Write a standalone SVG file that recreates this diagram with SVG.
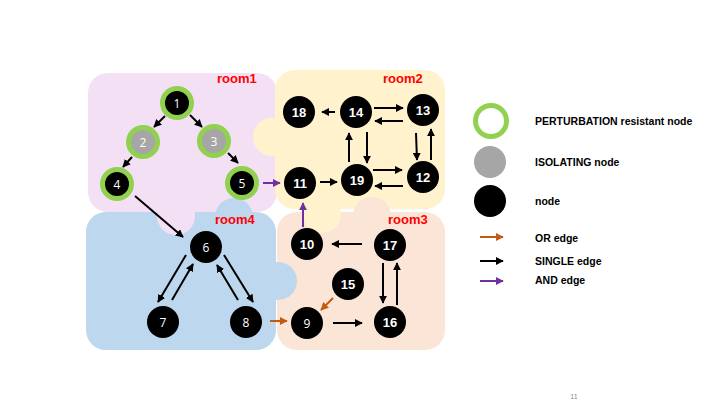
<svg xmlns="http://www.w3.org/2000/svg" width="720" height="405" viewBox="0 0 720 405">
<defs>
<marker id="ab" viewBox="0 0 10 10" refX="9" refY="5" markerWidth="4" markerHeight="4" orient="auto" markerUnits="strokeWidth"><path d="M0,0L10,5L0,10z" fill="#000"/></marker>
<marker id="ao" viewBox="0 0 10 10" refX="9" refY="5" markerWidth="4" markerHeight="4" orient="auto" markerUnits="strokeWidth"><path d="M0,0L10,5L0,10z" fill="#C55A11"/></marker>
<marker id="ap" viewBox="0 0 10 10" refX="9" refY="5" markerWidth="4" markerHeight="4" orient="auto" markerUnits="strokeWidth"><path d="M0,0L10,5L0,10z" fill="#7030A0"/></marker>
</defs>
<style>
.r1{fill:#F3E0F5}.r2{fill:#FFF2CC}.r3{fill:#FBE5D6}.r4{fill:#BDD7EE}
.room{font-family:"Liberation Sans",Arial,sans-serif;font-weight:bold;font-size:13px;fill:#FF0000}
.n{fill:#000}
.g{fill:#A6A6A6}
.ring{stroke:#92D050;stroke-width:5}
.t1{font-family:"Open Sans","Liberation Sans",sans-serif;font-size:12px;fill:#fff;text-anchor:middle}
.t2{font-family:"Liberation Sans",Arial,sans-serif;font-weight:bold;font-size:13px;fill:#fff;text-anchor:middle}
.e{fill:none;stroke:#000;stroke-width:2;marker-end:url(#ab)}
.eo{fill:none;stroke:#C55A11;stroke-width:2;marker-end:url(#ao)}
.ep{fill:none;stroke:#7030A0;stroke-width:2;marker-end:url(#ap)}
.leg{font-family:"Liberation Sans",Arial,sans-serif;font-weight:bold;font-size:10.5px;fill:#000}
</style>
<rect width="720" height="405" fill="#fff"/>
<g id="rooms">
<rect class="r1" x="88" y="73" width="189" height="139" rx="20"/>
<rect class="r2" x="275" y="70" width="170" height="139" rx="20"/>
<rect class="r4" x="86" y="212" width="190" height="138" rx="20"/>
<rect class="r3" x="277" y="212" width="168" height="138" rx="20"/>
<circle class="r2" cx="272" cy="137" r="19"/>
<circle class="r1" cx="176" cy="216" r="19"/>
<circle class="r4" cx="234" cy="217" r="19"/>
<circle class="r2" cx="322" cy="214" r="19"/>
<circle class="r3" cx="372" cy="216" r="19"/>
<circle class="r4" cx="278" cy="281" r="19"/>
<text class="room" x="217" y="83">room1</text>
<text class="room" x="383" y="83">room2</text>
<text class="room" x="215" y="224">room4</text>
<text class="room" x="388" y="224">room3</text>
</g>
<g id="connectors">
<line class="e" x1="165" y1="116" x2="154" y2="127"/>
<line class="e" x1="190" y1="115" x2="202" y2="127"/>
<line class="e" x1="132" y1="157" x2="123" y2="167"/>
<line class="e" x1="228" y1="153" x2="238" y2="163"/>
<line class="e" x1="135" y1="196" x2="183" y2="237"/>
<line class="ep" x1="263" y1="183" x2="280" y2="183"/>
<line class="e" x1="186" y1="255" x2="158" y2="302"/>
<line class="e" x1="172" y1="300" x2="193" y2="264"/>
<line class="e" x1="224" y1="255" x2="253" y2="302"/>
<line class="e" x1="238" y1="300" x2="217" y2="265"/>
<line class="eo" x1="270" y1="321" x2="287" y2="321"/>
<line class="eo" x1="333" y1="298" x2="321" y2="310"/>
<line class="e" x1="333" y1="323" x2="362" y2="323"/>
<line class="e" x1="362" y1="244" x2="332" y2="244"/>
<line class="e" x1="383" y1="263" x2="383" y2="303"/>
<line class="e" x1="397" y1="305" x2="397" y2="263"/>
<line class="ep" x1="303" y1="227" x2="303" y2="203"/>
<line class="e" x1="335" y1="112" x2="322" y2="112"/>
<line class="e" x1="374" y1="108" x2="403" y2="108"/>
<line class="e" x1="403" y1="121" x2="375" y2="121"/>
<line class="e" x1="416" y1="133" x2="417" y2="160"/>
<line class="e" x1="431" y1="160" x2="431" y2="129"/>
<line class="e" x1="367" y1="132" x2="367" y2="163"/>
<line class="e" x1="349" y1="162" x2="349" y2="133"/>
<line class="e" x1="320" y1="182" x2="337" y2="182"/>
<line class="e" x1="373" y1="170" x2="402" y2="170"/>
<line class="e" x1="403" y1="186" x2="375" y2="186"/>
</g>
<g id="n1"><circle class="n ring" cx="177" cy="103" r="14.5"/><text class="t1" x="177" y="107.5">1</text></g>
<g id="n2"><circle class="g ring" cx="143" cy="142" r="14.5"/><text class="t1" x="143" y="146.5">2</text></g>
<g id="n3"><circle class="g ring" cx="214" cy="141" r="14.5"/><text class="t1" x="214" y="145.5">3</text></g>
<g id="n4"><circle class="n ring" cx="117" cy="184" r="14.5"/><text class="t1" x="117" y="188.5">4</text></g>
<g id="n5"><circle class="n ring" cx="242" cy="183" r="14.5"/><text class="t1" x="242" y="187.5">5</text></g>
<g id="n6"><circle class="n" cx="206" cy="247" r="16"/><text class="t1" x="206" y="251.5">6</text></g>
<g id="n7"><circle class="n" cx="163" cy="322" r="16"/><text class="t1" x="163" y="326.5">7</text></g>
<g id="n8"><circle class="n" cx="246" cy="322" r="16"/><text class="t1" x="246" y="326.5">8</text></g>
<g id="n9"><circle class="n" cx="307" cy="323" r="16"/><text class="t1" x="307" y="327.5">9</text></g>
<g id="n10"><circle class="n" cx="307" cy="244" r="16"/><text class="t2" x="307" y="249">10</text></g>
<g id="n11"><circle class="n" cx="300" cy="183" r="16"/><text class="t2" x="300" y="188">11</text></g>
<g id="n12"><circle class="n" cx="423" cy="177" r="16"/><text class="t2" x="423" y="182">12</text></g>
<g id="n13"><circle class="n" cx="423" cy="110" r="16"/><text class="t2" x="423" y="115">13</text></g>
<g id="n14"><circle class="n" cx="356" cy="112" r="16"/><text class="t2" x="356" y="117">14</text></g>
<g id="n15"><circle class="n" cx="348" cy="284" r="16"/><text class="t2" x="348" y="289">15</text></g>
<g id="n16"><circle class="n" cx="390" cy="322" r="16"/><text class="t2" x="390" y="327">16</text></g>
<g id="n17"><circle class="n" cx="390" cy="245" r="16"/><text class="t2" x="390" y="250">17</text></g>
<g id="n18"><circle class="n" cx="299" cy="112" r="16"/><text class="t2" x="299" y="117">18</text></g>
<g id="n19"><circle class="n" cx="357" cy="180" r="16"/><text class="t2" x="357" y="185">19</text></g>
<g id="legend">
<circle cx="491" cy="121" r="15.5" fill="none" class="ring"/>
<circle class="g" cx="490" cy="162" r="16"/>
<circle class="n" cx="490" cy="201" r="16"/>
<line class="eo" x1="480" y1="237" x2="503" y2="237"/>
<line class="e" x1="480" y1="261" x2="503" y2="261"/>
<line class="ep" x1="480" y1="281" x2="503" y2="281"/>
<text class="leg" x="535" y="125">PERTURBATION resistant node</text>
<text class="leg" x="535" y="166">ISOLATING node</text>
<text class="leg" x="535" y="205">node</text>
<text class="leg" x="535" y="242">OR edge</text>
<text class="leg" x="535" y="265">SINGLE edge</text>
<text class="leg" x="535" y="284">AND edge</text>
</g>
<text x="574" y="399" font-family="Liberation Sans,Arial,sans-serif" font-size="7" fill="#888" text-anchor="middle">11</text>
</svg>
